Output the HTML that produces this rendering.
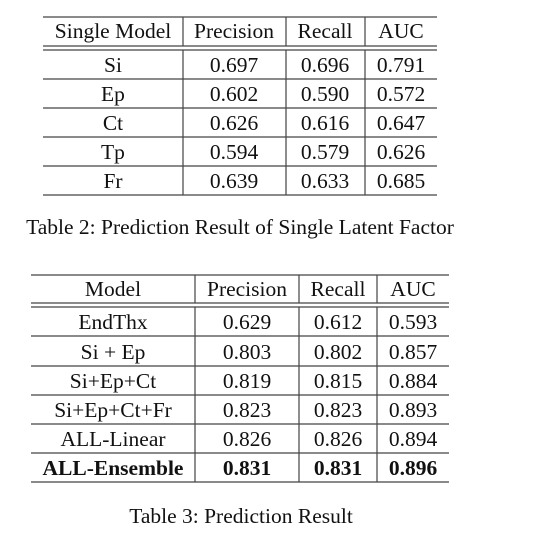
<!DOCTYPE html>
<html><head><meta charset="utf-8"><style>
html,body{margin:0;padding:0;background:#fff;}
svg{display:block;font-family:"Liberation Serif",serif;}
text{font-size:21.5px;fill:#111;text-anchor:middle;}
line{stroke:#444;stroke-width:1.2;}
</style></head><body>
<svg width="552" height="537" viewBox="0 0 552 537">
<g>
<line x1="43" x2="437" y1="17" y2="17"/>
<line x1="43" x2="437" y1="46" y2="46"/>
<line x1="43" x2="437" y1="50" y2="50"/>
<line x1="43" x2="437" y1="79" y2="79"/>
<line x1="43" x2="437" y1="108" y2="108"/>
<line x1="43" x2="437" y1="137" y2="137"/>
<line x1="43" x2="437" y1="166" y2="166"/>
<line x1="43" x2="437" y1="195" y2="195"/>
<line x1="183" x2="183" y1="17" y2="46"/><line x1="286" x2="286" y1="17" y2="46"/><line x1="365" x2="365" y1="17" y2="46"/>
<line x1="183" x2="183" y1="50" y2="195"/><line x1="286" x2="286" y1="50" y2="195"/><line x1="365" x2="365" y1="50" y2="195"/>
<g>
<text x="113" y="38">Single Model</text><text x="234" y="38">Precision</text><text x="325" y="38">Recall</text><text x="401" y="38">AUC</text>
</g>
<text x="113" y="72">Si</text><text x="234" y="72">0.697</text><text x="325" y="72">0.696</text><text x="401" y="72">0.791</text>
<text x="113" y="101">Ep</text><text x="234" y="101">0.602</text><text x="325" y="101">0.590</text><text x="401" y="101">0.572</text>
<text x="113" y="130">Ct</text><text x="234" y="130">0.626</text><text x="325" y="130">0.616</text><text x="401" y="130">0.647</text>
<text x="113" y="159">Tp</text><text x="234" y="159">0.594</text><text x="325" y="159">0.579</text><text x="401" y="159">0.626</text>
<text x="113" y="188">Fr</text><text x="234" y="188">0.639</text><text x="325" y="188">0.633</text><text x="401" y="188">0.685</text>
<text x="240" y="234">Table 2: Prediction Result of Single Latent Factor</text>
</g>
<g>
<line x1="31" x2="449" y1="275" y2="275"/>
<line x1="31" x2="449" y1="303" y2="303"/>
<line x1="31" x2="449" y1="307" y2="307"/>
<line x1="31" x2="449" y1="336" y2="336"/>
<line x1="31" x2="449" y1="366" y2="366"/>
<line x1="31" x2="449" y1="395" y2="395"/>
<line x1="31" x2="449" y1="424" y2="424"/>
<line x1="31" x2="449" y1="453" y2="453"/>
<line x1="31" x2="449" y1="482" y2="482"/>
<line x1="195" x2="195" y1="275" y2="303"/><line x1="299" x2="299" y1="275" y2="303"/><line x1="377" x2="377" y1="275" y2="303"/>
<line x1="195" x2="195" y1="307" y2="482"/><line x1="299" x2="299" y1="307" y2="482"/><line x1="377" x2="377" y1="307" y2="482"/>
<g>
<text x="113" y="296">Model</text><text x="247" y="296">Precision</text><text x="338" y="296">Recall</text><text x="413" y="296">AUC</text>
</g>
<text x="113" y="329">EndThx</text><text x="247" y="329">0.629</text><text x="338" y="329">0.612</text><text x="413" y="329">0.593</text>
<text x="113" y="359">Si + Ep</text><text x="247" y="359">0.803</text><text x="338" y="359">0.802</text><text x="413" y="359">0.857</text>
<text x="113" y="388">Si+Ep+Ct</text><text x="247" y="388">0.819</text><text x="338" y="388">0.815</text><text x="413" y="388">0.884</text>
<text x="113" y="417">Si+Ep+Ct+Fr</text><text x="247" y="417">0.823</text><text x="338" y="417">0.823</text><text x="413" y="417">0.893</text>
<text x="113" y="446">ALL-Linear</text><text x="247" y="446">0.826</text><text x="338" y="446">0.826</text><text x="413" y="446">0.894</text>
<g>
<text x="113" y="475" font-weight="bold">ALL-Ensemble</text><text x="247" y="475" font-weight="bold">0.831</text><text x="338" y="475" font-weight="bold">0.831</text><text x="413" y="475" font-weight="bold">0.896</text>
</g>
<text x="241" y="523">Table 3: Prediction Result</text>
</g>
</svg>
</body></html>
